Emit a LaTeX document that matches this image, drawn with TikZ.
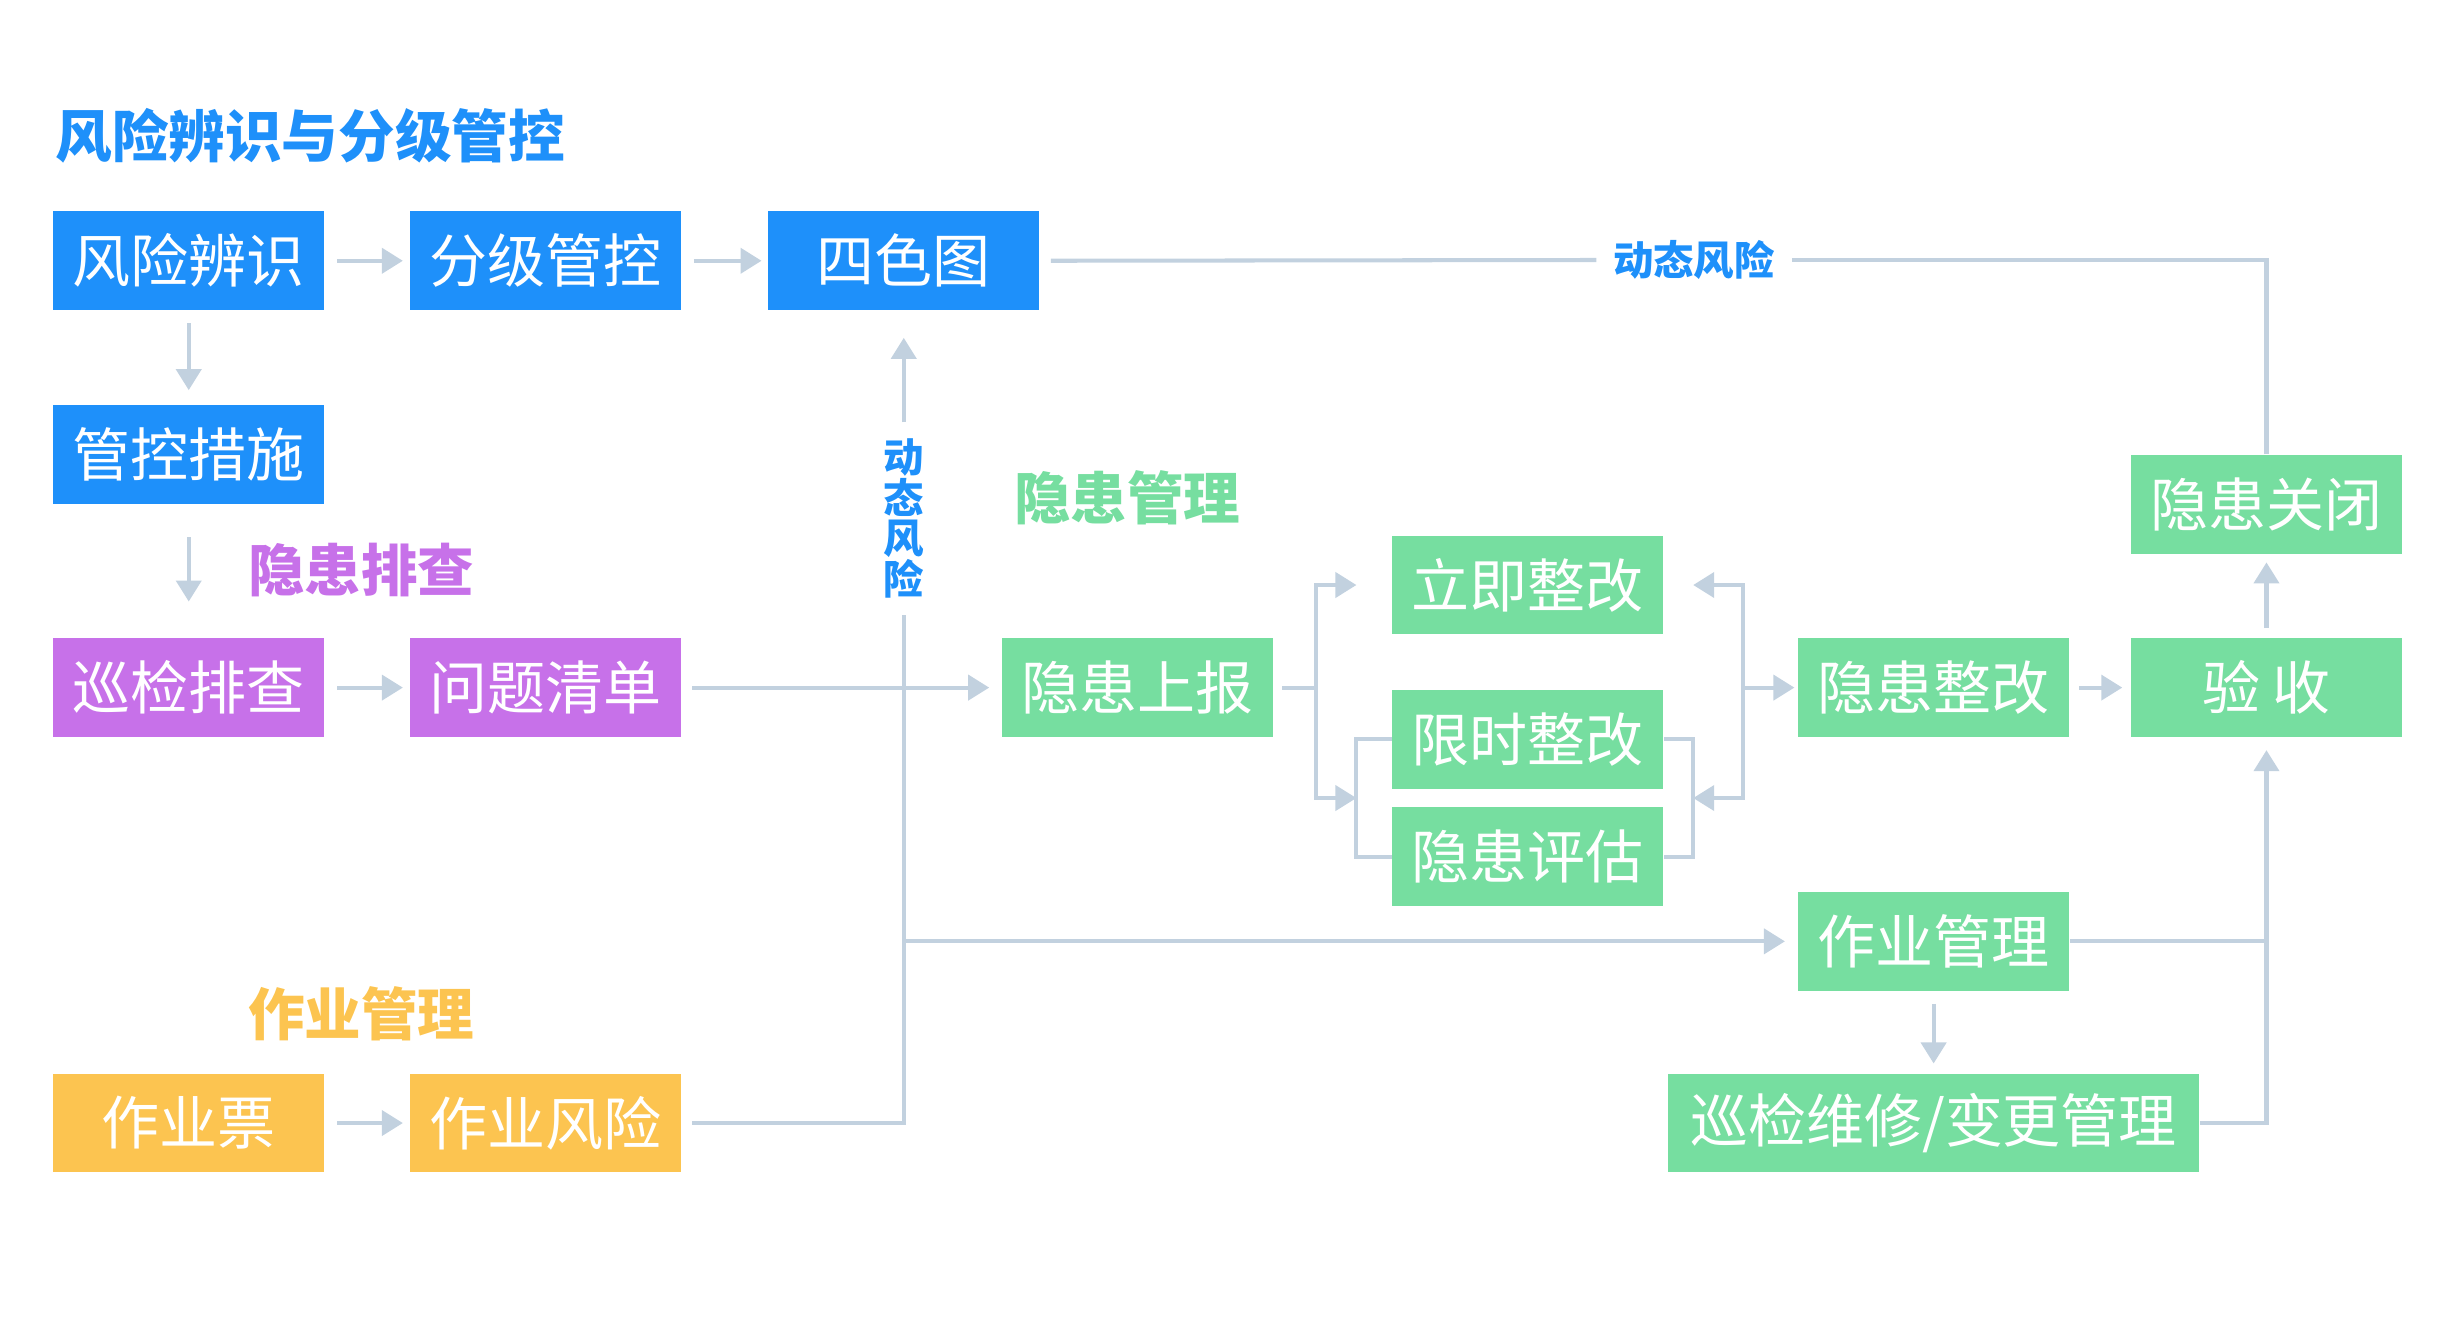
\documentclass[tikz,border=0pt]{standalone}
\usepackage{fontspec}
\setmainfont{Noto Sans CJK SC}
\usetikzlibrary{arrows.meta}

\definecolor{fxblue}{HTML}{1E90FA}
\definecolor{pcpurple}{HTML}{C771E9}
\definecolor{yhgreen}{HTML}{76DEA0}
\definecolor{zyorange}{HTML}{FCC450}
\definecolor{linegray}{HTML}{C2D1DF}

\begin{document}
\begin{tikzpicture}[x=0.15663mm, y=-0.15663mm,
    box/.style = {rectangle, minimum width=27.1mm, minimum height=9.87mm, inner sep=0pt,
                  text=white, font=\fontsize{16.5}{18}\selectfont},
    bluebox/.style = {box, fill=fxblue},
    purplebox/.style = {box, fill=pcpurple},
    greenbox/.style = {box, fill=yhgreen},
    orangebox/.style = {box, fill=zyorange},
    head/.style = {anchor=west, inner sep=0pt, font=\fontsize{16.1}{18}\selectfont\bfseries},
    dyn/.style = {text=fxblue, inner sep=1.6mm, align=center,
                  font=\fontsize{11.5}{11.5}\selectfont\bfseries},
    line/.style = {draw=linegray, line width=1.15pt},
    arr/.style = {line, arrows = -{Triangle[length=2.1mm, width=2.5mm]},
                  shorten <=1.25mm, shorten >=0.6mm}]

        \useasboundingbox (0,0) rectangle (1568,852);

        % headings
        \node (t1) [head, text=fxblue] at (35,87) {风险辨识与分级管控};
        \node (t2) [head, text=pcpurple] at (158,364) {隐患排查};
        \node (t3) [head, text=yhgreen] at (647,318) {隐患管理};
        \node (t4) [head, text=zyorange] at (158,647) {作业管理};

        \path   (120.5,166.5) node (a) [bluebox] {风险辨识}
                (348,166.5)   node (b) [bluebox] {分级管控}
                (577,166.5)   node (c) [bluebox] {四色图}
                (120.5,290)   node (d) [bluebox] {管控措施}
                (120.5,439)   node (e) [purplebox] {巡检排查}
                (348,439)     node (f) [purplebox] {问题清单}
                (726.5,439)   node (g) [greenbox] {隐患上报}
                (975.5,373.5) node (h) [greenbox] {立即整改}
                (975.5,472)   node (i) [greenbox] {限时整改}
                (975.5,547)   node (j) [greenbox] {隐患评估}
                (1234.5,439)  node (k) [greenbox] {隐患整改}
                (1447,439)    node (l) [greenbox] {验 收}
                (1447,322)    node (m) [greenbox] {隐患关闭}
                (1234.5,601)  node (n) [greenbox] {作业管理}
                (1234.5,717)  node (o) [greenbox, minimum width=53.1mm] {巡检维修/变更管理}
                (120.5,717)   node (p) [orangebox] {作业票}
                (348,717)     node (q) [orangebox] {作业风险};

        \node (v) [dyn] at (577,331) {动\\态\\风\\险};
        \node (w) [dyn] at (1081.5,166) {动态风险};

        \coordinate (ls) at (840,439);
        \coordinate (gl) at (866,509.5);
        \coordinate (gr) at (1081,509.5);
        \coordinate (rs) at (1113,439);

        % risk row
        \draw[arr] (a) -- (b);
        \draw[arr] (b) -- (c);
        \draw[arr, shorten >=1.4mm] (a) -- (d);
        \draw[arr, shorten <=3.3mm, shorten >=3.6mm] (d) -- (e);
        \draw[arr] (e) -- (f);
        \draw[arr, shorten <=1.1mm, shorten >=1.25mm] (f) -- (g);

        % dynamic risk
        \draw[line, shorten <=1.1mm] (q.east) -| (v.south);
        \draw[arr, shorten <=0mm, shorten >=2.7mm] (v.north) -- (c.south);
        \draw[arr, shorten <=0mm, shorten >=1.25mm] (v |- n) -- (n);
        \draw[line] (m.north) |- (w.east);
        \draw[line, shorten >=1.1mm] (w.west) -- (c.east);

        % hidden danger
        \draw[line, shorten <=0.8mm] (g.east) -- (ls);
        \draw[arr, shorten <=0mm, shorten >=0mm] (ls) |- (gl |- h);
        \draw[arr, shorten <=0mm, shorten >=0mm] (ls) |- (gl);
        \draw[line] (i.west) -| (gl) |- (j.west);
        \draw[line] (i.east) -| (gr) |- (j.east);
        \draw[arr, shorten <=0mm, shorten >=0mm] (rs) |- (gr |- h);
        \draw[arr, shorten <=0mm, shorten >=0mm] (rs) |- (gr);
        \draw[arr, shorten <=0mm, shorten >=0.3mm] (rs) -- (k);
        \draw[arr, shorten <=0.95mm, shorten >=0.8mm] (k) -- (l);
        \draw[arr, shorten <=0.95mm, shorten >=0.8mm] (l) -- (m);

        % work
        \draw[line] (n.east) -- (l |- n);
        \draw[arr, shorten <=0mm, shorten >=1.25mm] (o.east) -| (l.south);
        \draw[arr, shorten >=0.95mm] (n) -- (o);
        \draw[arr] (p) -- (q);

\end{tikzpicture}
\end{document}
